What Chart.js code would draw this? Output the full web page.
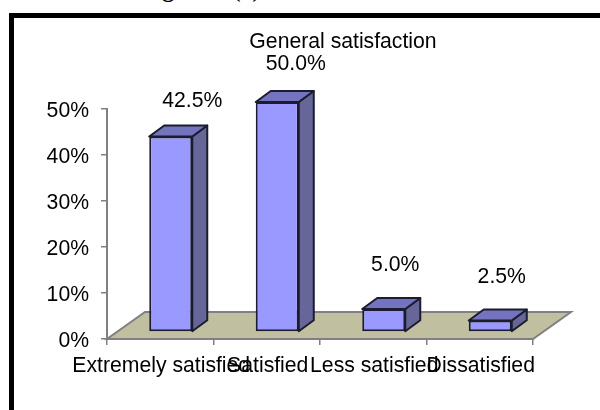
<!DOCTYPE html>
<html>
<head>
<meta charset="utf-8">
<title>General satisfaction</title>
<script src="https://cdn.jsdelivr.net/npm/chart.js@4"></script>
<style>
    html, body { margin: 0; padding: 0; background: #fff; }
    #page { position: relative; width: 600px; height: 410px; overflow: hidden; }
    #heading { position: absolute; left: 141px; top: -24px; font: bold 24px "Liberation Serif", serif; color: #000; white-space: pre; }
    #frame { position: absolute; left: 9px; top: 13px; width: 600px; height: 410px; border-left: 5px solid #000; border-top: 5px solid #000; filter: blur(0.4px); }
    canvas { position: absolute; left: 0; top: 0; filter: blur(0.4px); }
</style>
</head>
<body>
<div id="page">
    <div id="heading">Figure    (  )</div>
    <div id="frame"></div>
    <canvas id="chart" width="600" height="410"></canvas>
</div>
<script>
const chartTitle = 'General satisfaction';
const categories = ['Extremely satisfied', 'Satisfied', 'Less satisfied', 'Dissatisfied'];
const satisfaction = [42.5, 50.0, 5.0, 2.5];
const yTicks = [0, 10, 20, 30, 40, 50];

// how far each value label sits from its value
const labelLift = [42, 45, 51, 50];
const labelShift = [32, 29, 22, 22];

const FONT = '"Liberation Sans", Arial, sans-serif';
const FONT_SIZE = 21.2;

// fake 3D: front faces are pushed off the axis plane, floor runs back from the axis
const plugin3d = {
    id: 'fake3d',
    beforeDatasetsDraw(chart) {
        const { ctx, chartArea: a } = chart;
        ctx.save();
        ctx.beginPath();
        ctx.moveTo(a.left, a.bottom);
        ctx.lineTo(a.right, a.bottom);
        ctx.lineTo(a.right + 38, a.bottom - 27);
        ctx.lineTo(a.left + 38, a.bottom - 27);
        ctx.closePath();
        ctx.fillStyle = '#c0c0a0';
        ctx.fill();
        ctx.strokeStyle = '#808080';
        ctx.lineWidth = 2;
        ctx.stroke();
        ctx.restore();
    },
    beforeDatasetDraw(chart) {
        chart.ctx.save();
        chart.ctx.translate(10.5, -7);
    },
    afterDatasetDraw(chart, args) {
        const ctx = chart.ctx;
        ctx.restore();
        args.meta.data.forEach((bar) => {
            const right = bar.x + bar.width / 2 + 10.5;
            const left = right - bar.width;
            const top = bar.y - 7;
            const bottom = bar.base - 7;
            ctx.save();
            ctx.strokeStyle = '#1c1c30';
            ctx.lineWidth = 2;
            ctx.lineJoin = 'round';
            ctx.fillStyle = '#666699';
            ctx.beginPath();
            ctx.moveTo(right, top);
            ctx.lineTo(right + 15, top - 11);
            ctx.lineTo(right + 15, bottom - 11);
            ctx.lineTo(right, bottom);
            ctx.closePath();
            ctx.fill();
            ctx.stroke();
            ctx.fillStyle = '#7373bf';
            ctx.beginPath();
            ctx.moveTo(left, top);
            ctx.lineTo(left + 15, top - 11);
            ctx.lineTo(right + 15, top - 11);
            ctx.lineTo(right, top);
            ctx.closePath();
            ctx.fill();
            ctx.stroke();
            ctx.restore();
        });
    },
    afterDatasetsDraw(chart) {
        const { ctx, scales } = chart;
        ctx.save();
        ctx.fillStyle = '#000';
        ctx.font = FONT_SIZE + 'px ' + FONT;
        ctx.textAlign = 'center';
        ctx.textBaseline = 'middle';
        ctx.fillText(chartTitle, 343, 42);
        satisfaction.forEach((v, i) => {
            const x = scales.x.getPixelForValue(i) + labelShift[i];
            const y = scales.y.getPixelForValue(v) - labelLift[i];
            ctx.fillText(v.toFixed(1) + '%', x, y);
        });
        ctx.restore();
    }
};

new Chart(document.getElementById('chart'), {
    type: 'bar',
    data: {
        labels: categories,
        datasets: [{
            label: chartTitle,
            data: satisfaction,
            backgroundColor: '#9999ff',
            borderColor: '#1c1c30',
            borderWidth: 2,
            borderSkipped: false,
            categoryPercentage: 1,
            barPercentage: 0.404
        }]
    },
    options: {
        responsive: false,
        animation: false,
        layout: { autoPadding: false, padding: { top: 109, right: 67, bottom: 30, left: 0 } },
        scales: {
            x: {
                afterFit(scale) { scale.height = 41; },
                border: { color: '#808080', width: 2 },
                grid: { offset: true, drawOnChartArea: false, color: '#808080', lineWidth: 1.5, tickLength: 6 },
                ticks: { autoSkip: false, maxRotation: 0, minRotation: 0, padding: 8, labelOffset: 1, color: '#000', font: { family: FONT, size: FONT_SIZE } }
            },
            y: {
                min: 0,
                max: 50,
                afterFit(scale) { scale.width = 107; },
                afterBuildTicks(scale) { scale.ticks = yTicks.map((value) => ({ value })); },
                border: { color: '#808080', width: 2 },
                grid: { drawOnChartArea: false, color: '#808080', lineWidth: 1.5, tickLength: 6 },
                ticks: { padding: 12, labelOffset: 2, color: '#000', font: { family: FONT, size: FONT_SIZE }, callback: (v) => v + '%' }
            }
        },
        plugins: { legend: { display: false }, tooltip: { enabled: false } }
    },
    plugins: [plugin3d]
});
</script>
</body>
</html>
